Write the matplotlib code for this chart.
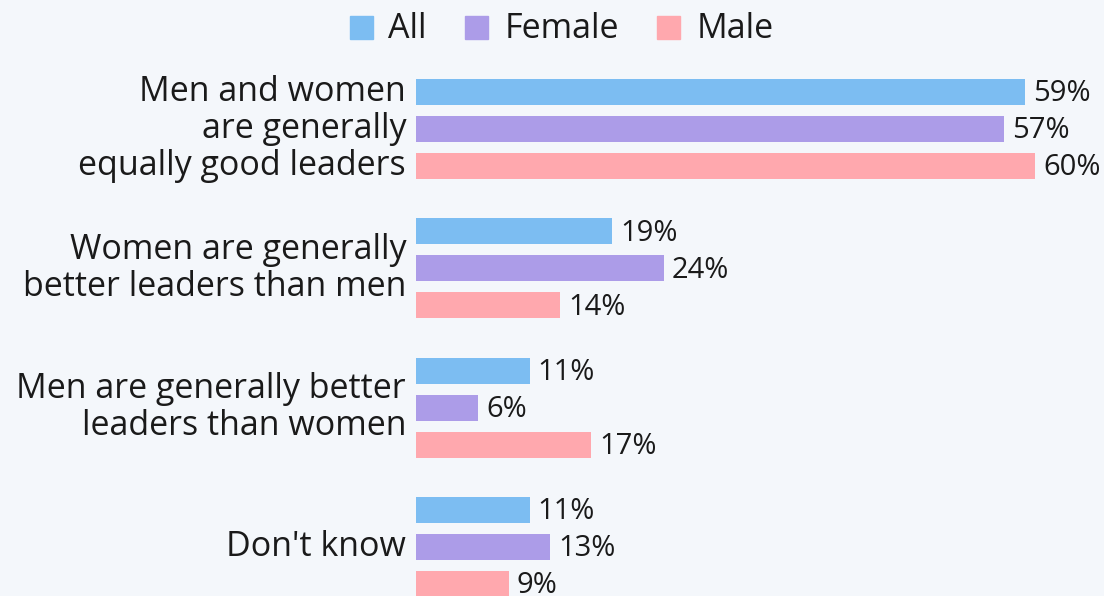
import matplotlib
matplotlib.use("Agg")
import matplotlib.pyplot as plt
from matplotlib.patches import Rectangle

categories = ["Men and women\nare generally\nequally good leaders",
              "Women are generally\nbetter leaders than men",
              "Men are generally better\nleaders than women",
              "Don't know"]
series_names = ["All", "Female", "Male"]
all_vals = [59, 19, 11, 11]
female_vals = [57, 24, 6, 13]
male_vals = [60, 14, 17, 9]
colors = ["#7CBDF2", "#AC9CE8", "#FFA8AE"]

plt.rcParams['font.family'] = ['Open Sans', 'DejaVu Sans']
W, H = 1104, 596
fig = plt.figure(figsize=(W / 100, H / 100), dpi=100)
bg = "#F4F7FB"
fig.patch.set_facecolor(bg)

x0 = 416
ax = fig.add_axes([x0 / W, 0, 1 - x0 / W, 1])
ax.set_facecolor(bg)
px_per_unit = 10.32
group_px = 139.3
first_center = 129
ax.set_xlim(0, (W - x0) / px_per_unit)
ax.set_ylim((H - first_center) / group_px, -first_center / group_px)
ax.axis('off')

off = 37 / group_px
bh = 26 / group_px
fs_val = 21
fs_cat = 24.5
for j, vals in enumerate([all_vals, female_vals, male_vals]):
    for i, v in enumerate(vals):
        y = i + (j - 1) * off
        ax.barh(y, v, height=bh, color=colors[j], edgecolor='none')
        ax.text(v + 8 / px_per_unit, y + 2 / group_px, f"{v}%", ha='left', va='center',
                fontsize=fs_val, color='#1a1a1a')

for i, c in enumerate(categories):
    ax.text(-10 / px_per_unit, i, c, ha='right', va='center',
            multialignment='right', fontsize=fs_cat, color='#1a1a1a',
            linespacing=1.1, clip_on=False)

# legend
leg_sq = [350, 465, 657]
leg_tx = [388, 505, 697]
for k in range(3):
    fig.patches.append(Rectangle((leg_sq[k] / W, 1 - 39 / H), 23 / W, 23 / H,
                                 transform=fig.transFigure, color=colors[k]))
    fig.text(leg_tx[k] / W, 1 - 29 / H, series_names[k], ha='left', va='center',
             fontsize=fs_cat, color='#1a1a1a')

fig.savefig("out.png", dpi=100, facecolor=bg)
